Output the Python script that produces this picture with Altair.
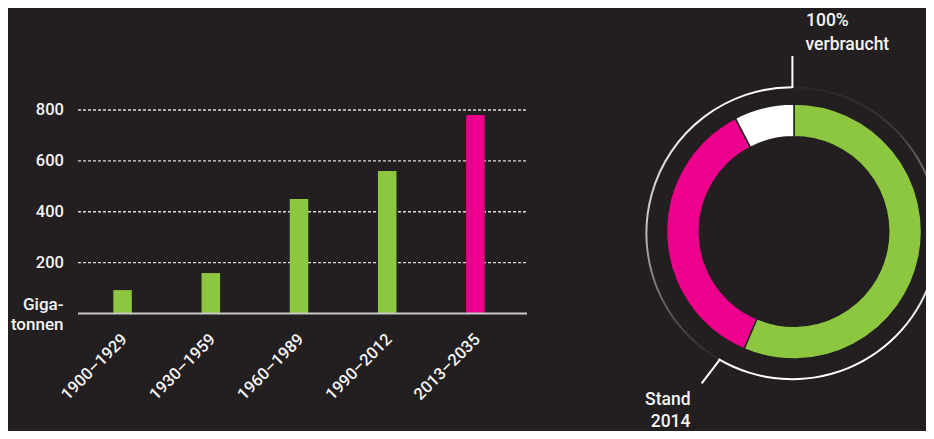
import math
import altair as alt
import pandas as pd

# ---------------- data ----------------
periods = ["1900–1929", "1930–1959", "1960–1989", "1990–2012", "2013–2035"]
gigatonnen = [92, 159, 450, 560, 780]
bar_groups = ["verbraucht", "verbraucht", "verbraucht", "verbraucht", "Budget"]
y_ticks = [200, 400, 600, 800]

ring_segments = ["verbraucht", "Budget", "Rest"]
ring_shares = [56.4, 36.0, 7.6]

group_domain = ["verbraucht", "Budget", "Rest"]
group_colors = ["#8dc63f", "#ec008c", "#ffffff"]

unit_label = ["Giga-", "tonnen"]
top_label = ["100%", "verbraucht"]
bottom_label = ["Stand", "2014"]

# ---------------- style / layout ----------------
BG = "#231f20"
TXT = "#f4f4f4"
FONT = "Roboto"
W_ = 500
M = 8  # page margin: page coordinates minus M give chart coordinates


def P(v):
    return v - M


bars_df = pd.DataFrame({"period": periods, "gt": gigatonnen, "group": bar_groups})
ticks_df = pd.DataFrame({"v": y_ticks})
zero_df = pd.DataFrame({"v": [0]})
ring_df = pd.DataFrame({"seg": ring_segments, "share": ring_shares,
                        "idx": list(range(len(ring_segments)))})
one = pd.DataFrame({"a": [0]})

yscale = alt.Scale(domain=[0, 800], range=[P(313.5), P(110)], nice=False, zero=True)
xscale = alt.Scale(domain=periods, range=[P(78), P(527)], paddingInner=0.79,
                   paddingOuter=0.44, align=0.455)
cscale = alt.Scale(domain=group_domain, range=group_colors)

grid = alt.Chart(ticks_df).mark_rule(
    color="#dcdcdc", strokeWidth=1.3, strokeDash=[3, 2]
).encode(
    y=alt.Y("v:Q", scale=yscale, axis=None),
    x=alt.value(P(78)), x2=alt.value(P(527)),
)

ylabels = alt.Chart(ticks_df).mark_text(
    align="right", baseline="middle", font=FONT, fontSize=16.5, color=TXT,
    fontWeight=W_,
).encode(
    y=alt.Y("v:Q", scale=yscale, axis=None),
    x=alt.value(P(64)),
    text=alt.Text("v:Q"),
)

bars = alt.Chart(bars_df).mark_bar().encode(
    x=alt.X("period:N", scale=xscale, axis=None, sort=periods),
    y=alt.Y("gt:Q", scale=yscale, axis=None),
    color=alt.Color("group:N", scale=cscale, legend=None),
)

baseline = alt.Chart(zero_df).mark_rule(color="#c8c8c8", strokeWidth=1.8).encode(
    y=alt.Y("v:Q", scale=yscale, axis=None),
    x=alt.value(P(78)), x2=alt.value(P(527)),
)

xlabels = alt.Chart(bars_df).mark_text(
    angle=315, align="right", baseline="middle", font=FONT, fontSize=16.5,
    color=TXT, dx=3, fontWeight=W_,
).encode(
    x=alt.X("period:N", scale=xscale, axis=None, sort=periods),
    y=alt.value(P(339)),
    text="period:N",
)


def label(text, x, y, align, size):
    return alt.Chart(one).mark_text(
        text=text, align=align, baseline="alphabetic", font=FONT,
        fontSize=size, color=TXT, fontWeight=W_,
    ).encode(x=alt.value(P(x)), y=alt.value(P(y)))


unit1 = label(unit_label[0], 63.5, 309.5, "right", 17)
unit2 = label(unit_label[1], 63.5, 329.5, "right", 17)
top1 = label(top_label[0], 806, 25.7, "left", 17.5)
top2 = label(top_label[1], 805.5, 50, "left", 17.5)
bot1 = label(bottom_label[0], 690.5, 404.5, "right", 17.5)
bot2 = label(bottom_label[1], 690.5, 426.5, "right", 17.5)

# donut
donut = alt.Chart(ring_df).mark_arc(
    innerRadius=94.7, outerRadius=127.5, stroke=BG, strokeWidth=1.5
).encode(
    theta=alt.Theta("share:Q", stack=True),
    order=alt.Order("idx:Q"),
    color=alt.Color("seg:N", scale=cscale, legend=None),
    x=alt.value(P(794)), y=alt.value(P(231.5)),
)

RCX, RCY = P(792.4), P(233.2)
deg = math.pi / 180

grad_left = alt.LinearGradient(
    gradient="linear", x1=0, x2=0, y1=0, y2=1,
    stops=[alt.GradientStop(offset=0, color="#ffffff"),
           alt.GradientStop(offset=0.5, color="#c4c4c4"),
           alt.GradientStop(offset=0.82, color="#5a5858"),
           alt.GradientStop(offset=1, color="#2a2627")],
)
grad_right = alt.LinearGradient(
    gradient="linear", x1=0, x2=0, y1=0, y2=1,
    stops=[alt.GradientStop(offset=0, color="#2a2627"),
           alt.GradientStop(offset=0.15, color="#3c393a"),
           alt.GradientStop(offset=0.5, color="#b0b0b0"),
           alt.GradientStop(offset=0.85, color="#ffffff"),
           alt.GradientStop(offset=1, color="#ffffff")],
)

ring_left = alt.Chart(one).mark_arc(
    theta=210.6 * deg, theta2=360 * deg, innerRadius=145, outerRadius=147,
    fill=grad_left,
).encode(x=alt.value(RCX), y=alt.value(RCY))

ring_right = alt.Chart(one).mark_arc(
    theta=0.0, theta2=210.4 * deg, innerRadius=145, outerRadius=147,
    fill=grad_right,
).encode(x=alt.value(RCX), y=alt.value(RCY))

tick_top = alt.Chart(one).mark_rule(color="#ffffff", strokeWidth=2).encode(
    x=alt.value(P(792.4)), y=alt.value(P(56)), y2=alt.value(P(88))
)
tick_bot = alt.Chart(one).mark_rule(color="#ffffff", strokeWidth=2).encode(
    x=alt.value(P(720)), y=alt.value(P(359.3)),
    x2=alt.value(P(701.7)), y2=alt.value(P(383.3))
)

chart = alt.layer(
    grid, bars, baseline, ylabels, xlabels, unit1, unit2,
    ring_left, ring_right, donut, tick_top, tick_bot,
    top1, top2, bot1, bot2,
).properties(
    width=934 - 2 * M, height=439 - 2 * M, background=BG, padding=0,
    autosize=alt.AutoSizeParams(type="none"),
).configure_view(stroke=None)

chart.save("out.html", embed_options={"renderer": "svg", "actions": False})
